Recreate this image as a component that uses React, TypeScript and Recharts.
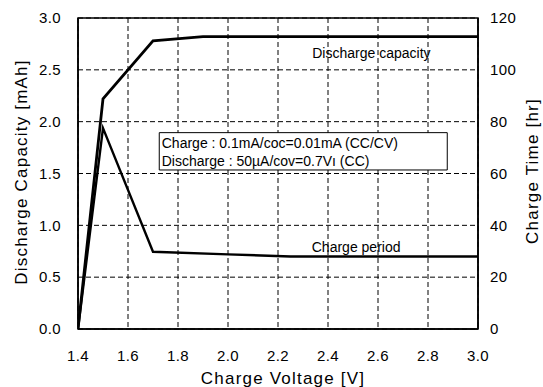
import React from 'react';
import {
  ComposedChart, Line, XAxis, YAxis, CartesianGrid, ReferenceArea, ReferenceDot, Label,
} from 'recharts';

const capacityVoltages = [1.4, 1.5, 1.7, 1.9, 3.0];
const capacityValues = [0, 2.22, 2.78, 2.82, 2.82];
const chargeVoltages = [1.4, 1.5, 1.7, 2.0, 2.25, 3.0];
const chargeTimes = [0, 77.5, 29.8, 28.8, 28.0, 28.0];

const xTicks = [1.4, 1.6, 1.8, 2.0, 2.2, 2.4, 2.6, 2.8, 3.0];
const leftTicks = [0, 0.5, 1.0, 1.5, 2.0, 2.5, 3.0];
const rightTicks = [0, 20, 40, 60, 80, 100, 120];

const noteLines = [
  'Charge : 0.1mA/coc=0.01mA (CC/CV)',
  'Discharge : 50\u00b5A/cov=0.7V\u0131 (CC)',
];

const capacityData = capacityVoltages.map((v, i) => ({ v, cap: capacityValues[i] }));
const chargeData = chargeVoltages.map((v, i) => ({ v, time: chargeTimes[i] }));

const FONT = '"Liberation Sans", Arial, Helvetica, sans-serif';
const tickStyle = { fill: '#000', fontSize: 15, fontFamily: FONT, letterSpacing: 0.4 };
const titleProps = { fontSize: 17, fill: '#000', fontFamily: FONT, letterSpacing: 1.2 };
const annot = { fontSize: 14, fill: '#000', fontFamily: FONT };

export default function App() {
  return (
    <div style={{ position: 'absolute', left: 0, top: 0, background: '#fff' }}>
      <ComposedChart
        width={543}
        height={387}
        margin={{ top: 18, right: 0, bottom: 0, left: 0 }}
        style={{ fontFamily: FONT }}
      >
        <CartesianGrid
          yAxisId="left"
          stroke="#000"
          strokeDasharray="5 3"
          strokeWidth={1}
        />
        <XAxis
          type="number"
          dataKey="v"
          domain={[1.4, 3.0]}
          ticks={xTicks}
          tickFormatter={(t: number) => t.toFixed(1)}
          height={58}
          tickLine={false}
          tickSize={0}
          tickMargin={21}
          axisLine={{ stroke: '#000', strokeWidth: 1.5 }}
          tick={tickStyle}
          allowDataOverflow
        >
          <Label
            value="Charge Voltage [V]"
            content={() => (
              <text x={283} y={384} textAnchor="middle" {...titleProps}>
                Charge Voltage [V]
              </text>
            )}
          />
        </XAxis>
        <YAxis
          yAxisId="left"
          domain={[0, 3]}
          ticks={leftTicks}
          tickFormatter={(t: number) => t.toFixed(1)}
          width={78}
          tickLine={false}
          tickSize={0}
          tickMargin={17}
          axisLine={{ stroke: '#000', strokeWidth: 1.5 }}
          tick={tickStyle}
          allowDataOverflow
        >
          <Label
            value="Discharge Capacity [mAh]"
            content={() => (
              <text x={21} y={172} transform="rotate(-90, 21, 172)" textAnchor="middle" dominantBaseline="central" {...titleProps}>
                Discharge Capacity [mAh]
              </text>
            )}
          />
        </YAxis>
        <YAxis
          yAxisId="right"
          orientation="right"
          domain={[0, 120]}
          ticks={rightTicks}
          width={65}
          tickLine={false}
          tickSize={0}
          tickMargin={12}
          axisLine={{ stroke: '#000', strokeWidth: 1.5 }}
          tick={tickStyle}
          allowDataOverflow
        >
          <Label
            value="Charge Time [hr]"
            content={() => (
              <text x={532} y={171} transform="rotate(-90, 532, 171)" textAnchor="middle" dominantBaseline="central" {...titleProps}>
                Charge Time [hr]
              </text>
            )}
          />
        </YAxis>
        <ReferenceArea
          yAxisId="left"
          x1={1.4}
          x2={3.0}
          y1={0}
          y2={3}
          fill="none"
          stroke="#000"
          strokeWidth={1.5}
        />
        <ReferenceArea
          yAxisId="left"
          x1={1.725}
          x2={2.877}
          y1={1.534}
          y2={1.894}
          fill="#fff"
          fillOpacity={1}
          stroke="#000"
          strokeWidth={1}
        />
        <ReferenceDot
          yAxisId="left"
          x={1.735}
          y={1.797}
          r={0}
          fill="none"
          stroke="none"
          label={{ value: noteLines[0], position: 'right', offset: 0, ...annot }}
        />
        <ReferenceDot
          yAxisId="left"
          x={1.735}
          y={1.618}
          r={0}
          fill="none"
          stroke="none"
          label={{ value: noteLines[1], position: 'right', offset: 0, ...annot }}
        />
        <ReferenceDot
          yAxisId="left"
          x={2.337}
          y={2.66}
          r={0}
          fill="none"
          stroke="none"
          label={{ value: 'Discharge capacity', position: 'right', offset: 0, ...annot }}
        />
        <ReferenceDot
          yAxisId="left"
          x={2.335}
          y={0.788}
          r={0}
          fill="none"
          stroke="none"
          label={{ value: 'Charge period', position: 'right', offset: 0, ...annot }}
        />
        <Line
          yAxisId="left"
          data={capacityData}
          dataKey="cap"
          type="linear"
          stroke="#000"
          strokeWidth={2.8}
          dot={false}
          activeDot={false}
          isAnimationActive={false}
        />
        <Line
          yAxisId="right"
          data={chargeData}
          dataKey="time"
          type="linear"
          stroke="#000"
          strokeWidth={2.4}
          dot={false}
          activeDot={false}
          isAnimationActive={false}
        />
      </ComposedChart>
    </div>
  );
}
